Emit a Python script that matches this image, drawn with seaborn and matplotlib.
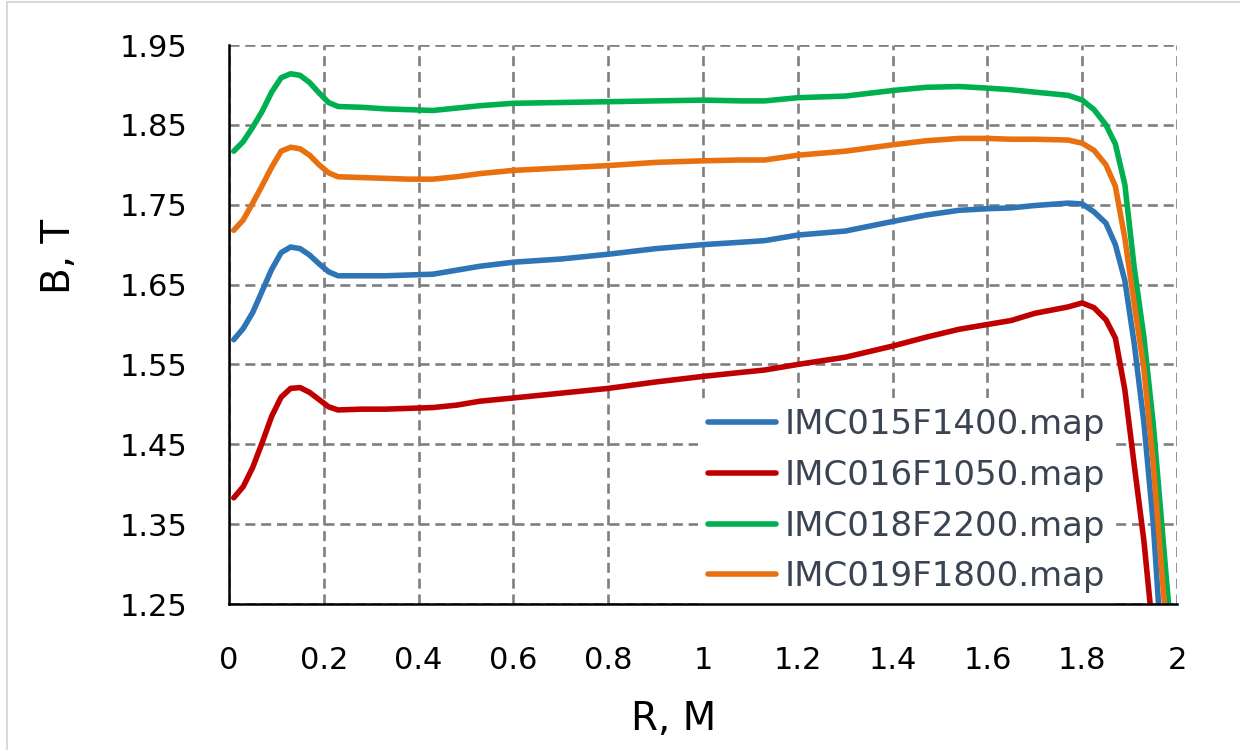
import matplotlib
matplotlib.use("Agg")
import matplotlib.pyplot as plt
import seaborn as sns
import pandas as pd
from matplotlib.patches import Rectangle

# ---------------- data ----------------
r_values = [0.01, 0.03, 0.05, 0.07, 0.09, 0.11, 0.13, 0.15, 0.17, 0.19,
            0.21, 0.23, 0.28, 0.33, 0.38, 0.43, 0.48, 0.53, 0.6, 0.7,
            0.8, 0.9, 1.0, 1.08, 1.13, 1.2, 1.3, 1.4, 1.47, 1.54,
            1.6, 1.65, 1.7, 1.77, 1.8, 1.825, 1.85, 1.87, 1.89, 1.91,
            1.93, 1.95, 1.97, 1.99]

b_imc015 = [1.581, 1.595, 1.615, 1.642, 1.669, 1.690, 1.697, 1.695, 1.687, 1.676,
            1.666, 1.661, 1.661, 1.661, 1.662, 1.663, 1.668, 1.673, 1.678, 1.682,
            1.688, 1.695, 1.700, 1.703, 1.705, 1.712, 1.717, 1.729, 1.737, 1.743,
            1.745, 1.746, 1.749, 1.752, 1.751, 1.741, 1.727, 1.700, 1.655, 1.575,
            1.478, 1.350, 1.170, 1.000]

b_imc016 = [1.383, 1.397, 1.421, 1.452, 1.485, 1.509, 1.520, 1.521, 1.515, 1.506,
            1.497, 1.493, 1.494, 1.494, 1.495, 1.496, 1.499, 1.504, 1.508, 1.514,
            1.520, 1.528, 1.535, 1.540, 1.543, 1.550, 1.559, 1.573, 1.584, 1.594,
            1.600, 1.605, 1.614, 1.622, 1.627, 1.621, 1.606, 1.583, 1.518, 1.423,
            1.330, 1.210, 1.080, 0.950]

b_imc018 = [1.817, 1.829, 1.847, 1.867, 1.891, 1.909, 1.914, 1.912, 1.903, 1.890,
            1.878, 1.873, 1.872, 1.870, 1.869, 1.868, 1.871, 1.874, 1.877, 1.878,
            1.879, 1.880, 1.881, 1.880, 1.880, 1.884, 1.886, 1.893, 1.897, 1.898,
            1.896, 1.894, 1.891, 1.887, 1.881, 1.869, 1.850, 1.826, 1.775, 1.670,
            1.585, 1.475, 1.335, 1.195]

b_imc019 = [1.718, 1.731, 1.752, 1.774, 1.797, 1.817, 1.822, 1.820, 1.812, 1.800,
            1.790, 1.785, 1.784, 1.783, 1.782, 1.782, 1.785, 1.789, 1.793, 1.796,
            1.799, 1.803, 1.805, 1.806, 1.806, 1.812, 1.817, 1.825, 1.830, 1.833,
            1.833, 1.832, 1.832, 1.831, 1.827, 1.818, 1.800, 1.773, 1.708, 1.625,
            1.545, 1.425, 1.275, 1.135]

series_names = ["IMC015F1400.map", "IMC016F1050.map", "IMC018F2200.map", "IMC019F1800.map"]
series_colors = ["#2E75B6", "#C00000", "#00B050", "#E8700F"]

x_ticks = [0, 0.2, 0.4, 0.6, 0.8, 1.0, 1.2, 1.4, 1.6, 1.8, 2.0]
x_tick_labels = ["0", "0.2", "0.4", "0.6", "0.8", "1", "1.2", "1.4", "1.6", "1.8", "2"]
y_ticks = [1.25, 1.35, 1.45, 1.55, 1.65, 1.75, 1.85, 1.95]
y_tick_labels = ["1.25", "1.35", "1.45", "1.55", "1.65", "1.75", "1.85", "1.95"]

# ---------------- build table ----------------
frames = []
for name, vals in zip(series_names, [b_imc015, b_imc016, b_imc018, b_imc019]):
    frames.append(pd.DataFrame({"R": r_values, "B": vals, "series": name}))
df = pd.concat(frames, ignore_index=True)

# ---------------- plot ----------------
sns.set_theme(style="white")
plt.rcParams["font.family"] = ["DejaVu Sans"]

fig = plt.figure(figsize=(12.4, 7.5), dpi=100)
ax = fig.add_axes([229 / 1240, (750 - 604) / 750, (1177 - 229) / 1240, (604 - 45) / 750])

sns.lineplot(data=df, x="R", y="B", hue="series", hue_order=series_names,
             palette=dict(zip(series_names, series_colors)), sort=False,
             linewidth=4, ax=ax, zorder=3, solid_capstyle="round")

ax.set_xlim(0, 2)
ax.set_ylim(1.25, 1.95)
ax.set_xticks(x_ticks)
ax.set_xticklabels(x_tick_labels)
ax.set_yticks(y_ticks)
ax.set_yticklabels(y_tick_labels)
ax.tick_params(axis="both", length=0, pad=30, labelsize=22, labelcolor="black")

ax.grid(True, color="#7F7F7F", linestyle=(0, (3.8, 2.2)), linewidth=1.9, zorder=1)
ax.set_axisbelow(True)

for s in ["top", "right"]:
    ax.spines[s].set_visible(False)
for s in ["left", "bottom"]:
    ax.spines[s].set_color("black")
    ax.spines[s].set_linewidth(1.8)
    ax.spines[s].set_zorder(10)

ax.set_xlabel("R, M", fontsize=28, color="black")
ax.set_ylabel("B, T", fontsize=28, color="black")
ax.xaxis.set_label_coords((674 - 229) / 948, (604 - 700) / 559)
ax.yaxis.set_label_coords((78 - 229) / 948, (604 - 256) / 559)

leg = ax.legend(loc="upper left", bbox_to_anchor=((698 - 229) / 948, (604 - 398) / 559),
                frameon=True, fontsize=24.5, handlelength=2.0, handletextpad=0.25,
                labelspacing=0.52, borderpad=0.3, borderaxespad=0)
leg.get_frame().set_facecolor("white")
leg.get_frame().set_edgecolor("none")
leg.get_frame().set_alpha(1)
leg.set_zorder(5)
for line in leg.get_lines():
    line.set_linewidth(4)
for t in leg.get_texts():
    t.set_color("#3B4453")

fig.patches.append(Rectangle((7 / 1240, -0.1), 1.2, (748 / 750) + 0.1,
                             transform=fig.transFigure, fill=False,
                             edgecolor="#D9D9D9", linewidth=1.5, zorder=0))

fig.savefig("out.png", dpi=100)
